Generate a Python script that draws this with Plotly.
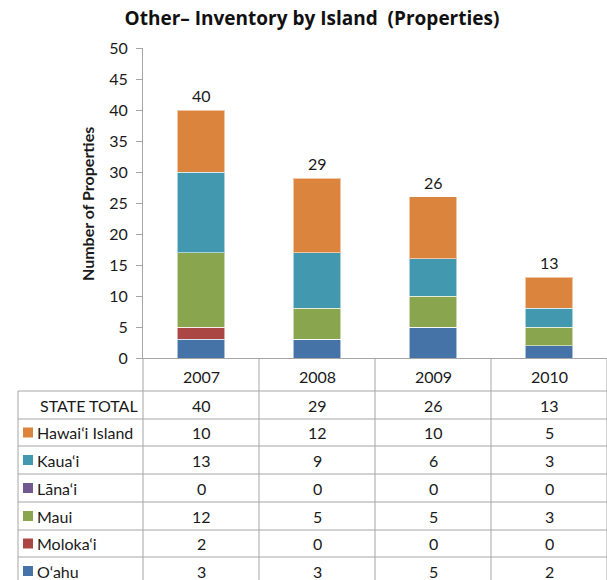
import plotly.graph_objects as go

# --- data -------------------------------------------------------------
years = ["2007", "2008", "2009", "2010"]
islands = ["Hawai‘i Island", "Kaua‘i", "Lāna‘i", "Maui", "Moloka‘i", "O‘ahu"]
hawaii = [10, 12, 10, 5]
kauai = [13, 9, 6, 3]
lanai = [0, 0, 0, 0]
maui = [12, 5, 5, 3]
molokai = [2, 0, 0, 0]
oahu = [3, 3, 5, 2]
state_total = [40, 29, 26, 13]
y_ticks = [0, 5, 10, 15, 20, 25, 30, 35, 40, 45, 50]

series = {
    "Hawai‘i Island": hawaii,
    "Kaua‘i": kauai,
    "Lāna‘i": lanai,
    "Maui": maui,
    "Moloka‘i": molokai,
    "O‘ahu": oahu,
}
colors = {
    "Hawai‘i Island": "#DB843D",
    "Kaua‘i": "#4198AF",
    "Lāna‘i": "#71588F",
    "Maui": "#89A54E",
    "Moloka‘i": "#AA4643",
    "O‘ahu": "#4572A7",
}

# --- geometry (pixels) ------------------------------------------------
W, H = 607, 580
L, T, B = 143, 48, 222
PLOT_H = H - T - B  # 310
PLOT_W = W - L      # 464
FONT = "Lato, 'Open Sans', sans-serif"
TITLE_FONT = "'Open Sans', Lato, sans-serif"
TXT = "#1a1a1a"
GRID = "#a6a6a6"
FS = 16


def py(pix):
    """pixel y -> paper y"""
    return (H - B - pix) / PLOT_H


def px(pix):
    """pixel x -> paper x"""
    return (pix - L) / PLOT_W


def cell(x, y, text, xref="x", xanchor="center"):
    return dict(x=x, y=y, xref=xref, yref="paper", text=text, showarrow=False,
                xanchor=xanchor, yanchor="middle",
                font=dict(family=FONT, size=FS, color=TXT))


fig = go.Figure()

# stacked bars, bottom to top
for name in ["O‘ahu", "Moloka‘i", "Lāna‘i", "Maui", "Kaua‘i", "Hawai‘i Island"]:
    fig.add_trace(go.Bar(
        x=years, y=series[name], name=name,
        marker=dict(color=colors[name],
                    line=dict(color="rgba(255,255,255,0.55)", width=1)),
        width=0.41, showlegend=False, hoverinfo="x+y+name",
    ))

shapes = []
annotations = []

# totals above bars
for i, v in enumerate(state_total):
    annotations.append(dict(x=i, y=v, xref="x", yref="y", text=str(v),
                            showarrow=False, xanchor="center", yanchor="bottom",
                            yshift=3, font=dict(family=FONT, size=FS, color=TXT)))

# table grid: horizontal lines
row_lines = [391, 419, 446, 474, 502, 530, 557, 585]
for r in row_lines:
    shapes.append(dict(type="line", xref="paper", yref="paper",
                       x0=px(18), x1=1, y0=py(r), y1=py(r),
                       line=dict(color=GRID, width=1)))
# table grid: vertical lines
shapes.append(dict(type="line", xref="paper", yref="paper",
                   x0=px(18), x1=px(18), y0=py(391), y1=py(585),
                   line=dict(color=GRID, width=1)))
shapes.append(dict(type="line", xref="paper", yref="paper",
                   x0=0, x1=0, y0=py(358), y1=py(585),
                   line=dict(color=GRID, width=1)))
for i in range(len(years) - 1):
    shapes.append(dict(type="line", xref="x", yref="paper",
                       x0=i + 0.5, x1=i + 0.5, y0=py(358), y1=py(585),
                       line=dict(color=GRID, width=1)))
shapes.append(dict(type="line", xref="paper", yref="paper",
                   x0=1, x1=1, y0=py(358), y1=py(585),
                   line=dict(color=GRID, width=1)))

# year headers
for i, yr in enumerate(years):
    annotations.append(cell(i, py(376), yr))

# table rows
row_centers = [405, 432.5, 460, 488, 516, 543.5, 571]
annotations.append(cell(px(140), py(row_centers[0]), "STATE TOTAL",
                        xref="paper", xanchor="right"))
for i, v in enumerate(state_total):
    annotations.append(cell(i, py(row_centers[0]), str(v)))

for k, name in enumerate(islands):
    yc = row_centers[k + 1]
    shapes.append(dict(type="rect", xref="paper", yref="paper",
                       x0=px(23), x1=px(33), y0=py(yc + 5), y1=py(yc - 5),
                       fillcolor=colors[name], line=dict(width=0)))
    annotations.append(cell(px(35), py(yc), name, xref="paper", xanchor="left"))
    for i, v in enumerate(series[name]):
        annotations.append(cell(i, py(yc), str(v)))

# y-axis title
annotations.append(dict(x=px(88), y=py(204), xref="paper", yref="paper",
                        text="<b>Number of Properties</b>", showarrow=False,
                        textangle=-90, xanchor="center", yanchor="middle",
                        font=dict(family=FONT, size=16, color=TXT)))

fig.update_layout(
    width=W, height=H,
    margin=dict(l=L, r=0, t=T, b=B),
    paper_bgcolor="white", plot_bgcolor="white",
    barmode="stack", bargap=0.59,
    title=dict(text="<b>Other– Inventory by Island  (Properties)</b>",
               x=312 / W, xanchor="center", y=1 - 18 / H, yanchor="middle",
               font=dict(family=TITLE_FONT, size=19, color="#111")),
    xaxis=dict(type="category", categoryorder="array", categoryarray=years,
               range=[-0.5, 3.5], showticklabels=False, ticks="",
               showgrid=False, zeroline=False, showline=True,
               linecolor=GRID, linewidth=1),
    yaxis=dict(range=[0, 50], tickvals=y_ticks, showgrid=False, zeroline=False,
               showline=True, linecolor=GRID, linewidth=1,
               ticks="outside", ticklen=6, tickcolor=GRID,
               ticklabelstandoff=5,
               tickfont=dict(family=FONT, size=FS, color=TXT)),
    shapes=shapes, annotations=annotations,
)

fig.write_html("out.html")
